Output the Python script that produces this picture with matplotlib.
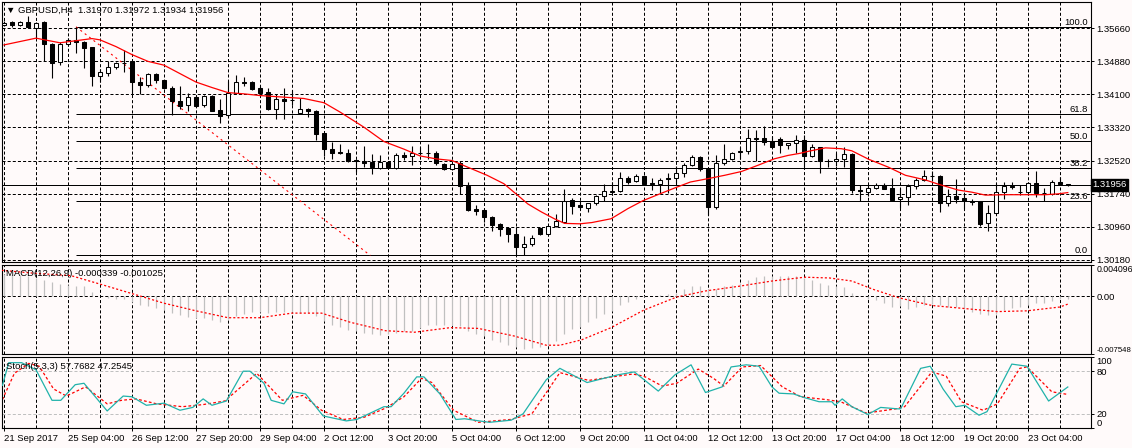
import matplotlib
matplotlib.use('Agg')
import matplotlib.pyplot as plt
from matplotlib.transforms import blended_transform_factory

plt.rcParams['font.family'] = ['Liberation Sans', 'DejaVu Sans']
plt.rcParams['font.size'] = 6.8
plt.rcParams['lines.scale_dashes'] = False

# GBPUSD H4 candles, one value per bar (bar 0 = 21 Sep 2017)
opens = [1.3575, 1.3581, 1.3574, 1.3581, 1.3567, 1.3581, 1.3529, 1.3487, 1.3528, 1.3539,
         1.3535, 1.3521, 1.3453, 1.3461, 1.3474, 1.3485, 1.3488, 1.3439, 1.3433, 1.3458,
         1.3443, 1.3426, 1.3395, 1.3384, 1.3403, 1.3384, 1.3406, 1.3372, 1.3360, 1.3412,
         1.3438, 1.3438, 1.3424, 1.3415, 1.3374, 1.3398, 1.3397, 1.3366, 1.3375, 1.3370,
         1.3318, 1.3280, 1.3273, 1.3271, 1.3254, 1.3253, 1.3250, 1.3235, 1.3250, 1.3236,
         1.3265, 1.3263, 1.3272, 1.3271, 1.3272, 1.3244, 1.3232, 1.3246, 1.3193, 1.3137,
         1.3136, 1.3118, 1.3103, 1.3092, 1.3079, 1.3049, 1.3054, 1.3092, 1.3080, 1.3098,
         1.3107, 1.3159, 1.3147, 1.3141, 1.3153, 1.3168, 1.3179, 1.3180, 1.3212, 1.3204,
         1.3216, 1.3199, 1.3197, 1.3212, 1.3212, 1.3223, 1.3242, 1.3261, 1.3232, 1.3144,
         1.3246, 1.3257, 1.3274, 1.3275, 1.3305, 1.3306, 1.3300, 1.3303, 1.3289, 1.3294,
         1.3302, 1.3264, 1.3284, 1.3253, 1.3251, 1.3256, 1.3269, 1.3182, 1.3178, 1.3189,
         1.3196, 1.3187, 1.3161, 1.3166, 1.3193, 1.3206, 1.3217, 1.3216, 1.3152, 1.3169,
         1.3164, 1.3156, 1.3156, 1.3104, 1.3129, 1.3178, 1.3193, 1.3178, 1.3178, 1.3199,
         1.3177, 1.3174, 1.3201, 1.31970]
highs = [1.3583, 1.3584, 1.3584, 1.3596, 1.3581, 1.3583, 1.3532, 1.3535, 1.3543, 1.3570,
         1.3537, 1.3523, 1.3469, 1.3488, 1.3487, 1.3515, 1.3490, 1.3450, 1.3461, 1.3461,
         1.3445, 1.3430, 1.3430, 1.3412, 1.3408, 1.3409, 1.3409, 1.3398, 1.3441, 1.3456,
         1.3450, 1.3442, 1.3430, 1.3426, 1.3411, 1.3425, 1.3420, 1.3401, 1.3378, 1.3373,
         1.3319, 1.3297, 1.3291, 1.3281, 1.3257, 1.3287, 1.3268, 1.3265, 1.3253, 1.3270,
         1.3273, 1.3287, 1.3286, 1.3292, 1.3275, 1.3246, 1.3246, 1.3253, 1.3202, 1.3148,
         1.3137, 1.3122, 1.3106, 1.3093, 1.3096, 1.3074, 1.3077, 1.3095, 1.3099, 1.3126,
         1.3185, 1.3164, 1.3156, 1.3153, 1.3172, 1.3198, 1.3202, 1.3226, 1.3216, 1.3220,
         1.3218, 1.3212, 1.3212, 1.3224, 1.3240, 1.3248, 1.3265, 1.3264, 1.3234, 1.3267,
         1.3291, 1.3273, 1.3286, 1.3327, 1.3325, 1.3336, 1.3310, 1.3308, 1.3295, 1.3313,
         1.3313, 1.3291, 1.3286, 1.3257, 1.3272, 1.3284, 1.3270, 1.3194, 1.3194, 1.3199,
         1.3199, 1.3212, 1.3189, 1.3197, 1.3212, 1.3231, 1.3227, 1.3218, 1.3185, 1.3210,
         1.3174, 1.3161, 1.3158, 1.3147, 1.3199, 1.3202, 1.3201, 1.3196, 1.3201, 1.3227,
         1.3188, 1.3208, 1.3215, 1.31972]
lows = [1.3572, 1.3569, 1.3572, 1.3566, 1.3543, 1.3488, 1.3449, 1.3480, 1.3524, 1.3509,
        1.3472, 1.3430, 1.3438, 1.3454, 1.3471, 1.3463, 1.3411, 1.3411, 1.3428, 1.3436,
        1.3423, 1.3362, 1.3376, 1.3371, 1.3381, 1.3379, 1.3370, 1.3343, 1.3359, 1.3411,
        1.3430, 1.3420, 1.3408, 1.3373, 1.3352, 1.3351, 1.3385, 1.3365, 1.3357, 1.3302,
        1.3264, 1.3256, 1.3268, 1.3250, 1.3226, 1.3237, 1.3221, 1.3234, 1.3235, 1.3234,
        1.3254, 1.3243, 1.3265, 1.3257, 1.3243, 1.3231, 1.3231, 1.3174, 1.3134, 1.3123,
        1.3107, 1.3087, 1.3073, 1.3060, 1.3030, 1.3028, 1.3050, 1.3076, 1.3079, 1.3095,
        1.3106, 1.3126, 1.3137, 1.3131, 1.3148, 1.3156, 1.3172, 1.3178, 1.3197, 1.3201,
        1.3196, 1.3182, 1.3175, 1.3175, 1.3197, 1.3215, 1.3240, 1.3229, 1.3125, 1.3139,
        1.3242, 1.3254, 1.3257, 1.3268, 1.3251, 1.3289, 1.3284, 1.3272, 1.3280, 1.3270,
        1.3237, 1.3261, 1.3224, 1.3237, 1.3240, 1.3237, 1.3175, 1.3158, 1.3169, 1.3186,
        1.3185, 1.3158, 1.3140, 1.3148, 1.3185, 1.3204, 1.3205, 1.3131, 1.3145, 1.3153,
        1.3139, 1.3147, 1.3099, 1.3087, 1.3126, 1.3161, 1.3186, 1.3172, 1.3172, 1.3166,
        1.3158, 1.3172, 1.3196, 1.31934]
closes = [1.3580, 1.3574, 1.3581, 1.3569, 1.3578, 1.3528, 1.3483, 1.3529, 1.3539, 1.3535,
          1.3520, 1.3453, 1.3462, 1.3474, 1.3483, 1.3483, 1.3438, 1.3431, 1.3458, 1.3445,
          1.3426, 1.3393, 1.3382, 1.3403, 1.3383, 1.3406, 1.3371, 1.3359, 1.3412, 1.3439,
          1.3437, 1.3423, 1.3413, 1.3374, 1.3398, 1.3395, 1.3396, 1.3374, 1.3370, 1.3317,
          1.3281, 1.3272, 1.3270, 1.3251, 1.3253, 1.3248, 1.3237, 1.3250, 1.3237, 1.3265,
          1.3262, 1.3270, 1.3271, 1.3272, 1.3246, 1.3232, 1.3244, 1.3192, 1.3136, 1.3134,
          1.3118, 1.3101, 1.3090, 1.3078, 1.3048, 1.3054, 1.3069, 1.3079, 1.3098, 1.3110,
          1.3158, 1.3145, 1.3142, 1.3152, 1.3169, 1.3180, 1.3180, 1.3211, 1.3202, 1.3216,
          1.3197, 1.3198, 1.3208, 1.3210, 1.3223, 1.3242, 1.3261, 1.3232, 1.3144, 1.3246,
          1.3257, 1.3272, 1.3275, 1.3306, 1.3306, 1.3298, 1.3286, 1.3289, 1.3294, 1.3302,
          1.3264, 1.3286, 1.3251, 1.3252, 1.3256, 1.3269, 1.3182, 1.3180, 1.3189, 1.3196,
          1.3186, 1.3160, 1.3167, 1.3193, 1.3206, 1.3216, 1.3216, 1.3152, 1.3169, 1.3161,
          1.3158, 1.3155, 1.3103, 1.3129, 1.3178, 1.3193, 1.3191, 1.3179, 1.3199, 1.3175,
          1.3176, 1.3201, 1.3197, 1.31956]

# moving average (red line), read at points along the curve
ma_x = [0, 4, 7, 9, 11, 12, 14, 16, 18, 20, 22, 24, 26, 28, 30, 32, 37.5, 40, 42, 45,
        47.5, 50, 52, 54, 56, 58, 60.4, 62.5, 64.2, 65.5, 67.2, 68.8, 70.1, 72, 73.5,
        75.9, 78, 79.9, 82, 84, 85.8, 88, 90.1, 92.2, 94.3, 96.3, 98, 99.5, 100.6, 102.7,
        104.7, 106, 108.1, 110.6, 112.7, 115.2, 116.8, 119.3, 121, 122.7, 125.2, 127.7,
        130.2, 131.8, 133]
ma_v = [1.3527, 1.3543, 1.3532, 1.3537, 1.3542, 1.3539, 1.3523, 1.3504, 1.3488, 1.3479,
        1.3459, 1.3439, 1.3426, 1.3414, 1.3411, 1.3407, 1.3400, 1.3390, 1.3368, 1.3332,
        1.3298, 1.3280, 1.3264, 1.3257, 1.3253, 1.3237, 1.3218, 1.3198, 1.3171, 1.3150,
        1.3131, 1.3115, 1.3104, 1.3103, 1.3106, 1.3115, 1.3139, 1.3158, 1.3174, 1.3189,
        1.3202, 1.3210, 1.3218, 1.3227, 1.3242, 1.3257, 1.3265, 1.3270, 1.3275, 1.3283,
        1.3281, 1.3276, 1.3256, 1.3237, 1.3218, 1.3207, 1.3197, 1.3183, 1.3178, 1.3171,
        1.3172, 1.3172, 1.3172, 1.3174, 1.3177]

# MACD(12,26,9) histogram per bar and signal line
macd_main = [0.0029, 0.0029, 0.0028, 0.0027, 0.0024, 0.0021, 0.0019, 0.0016, 0.0015, 0.0014,
             0.0013, 0.0005, 0.0000, -0.00026, -0.0003, -0.0004, -0.0007, -0.0012, -0.0013, -0.0015,
             -0.0018, -0.0022, -0.0025, -0.0027, -0.0028, -0.0029, -0.0031, -0.0033, -0.0030, -0.0026,
             -0.0023, -0.0021, -0.0021, -0.0022, -0.0021, -0.0021, -0.0020, -0.0022, -0.0022, -0.0026,
             -0.0032, -0.0037, -0.0040, -0.0044, -0.0046, -0.0048, -0.0049, -0.0051, -0.0049, -0.0048,
             -0.0046, -0.0045, -0.0041, -0.0038, -0.0038, -0.0038, -0.0037, -0.0039, -0.0046, -0.0049,
             -0.0052, -0.0057, -0.0060, -0.0064, -0.0066, -0.0069, -0.0068, -0.0066, -0.0064, -0.0058,
             -0.0049, -0.0043, -0.0040, -0.0034, -0.0029, -0.0023, -0.0019, -0.0012, -0.0008, -0.0004,
             -0.0001, 0.0000, 0.0002, 0.0003, 0.0004, 0.0009, 0.0013, 0.0013, 0.0009, 0.0010,
             0.0013, 0.0015, 0.0017, 0.0021, 0.0025, 0.0027, 0.0027, 0.0027, 0.0027, 0.0026,
             0.0024, 0.0021, 0.0018, 0.0015, 0.0014, 0.0012, 0.0004, 0.0000, -0.0004, -0.0005,
             -0.0009, -0.0014, -0.0013, -0.0016, -0.0014, -0.0011, -0.0010, -0.0012, -0.0014, -0.0014,
             -0.0017, -0.0021, -0.0023, -0.0025, -0.0023, -0.0018, -0.0015, -0.0014, -0.0012, -0.0009,
             -0.0009, -0.0006, -0.0004, -0.000339]
sig_x = [-0.3, 4, 8.4, 12, 16.5, 20, 24, 28, 32, 36, 39.7, 43.3, 47.7, 51.3, 55.8, 59.3, 63.8,
         67.8, 69.5, 72.2, 75.9, 80, 84.1, 87.7, 91.8, 96, 100.1, 103.2, 106, 108.7, 111.9,
         116, 120.1, 124.2, 127.9, 132, 133]
sig_v = [0.0034, 0.0030, 0.0027, 0.0016, 0.0002, -0.0009, -0.0019, -0.0028, -0.0028, -0.0022,
         -0.0022, -0.0034, -0.0045, -0.0047, -0.0041, -0.0042, -0.0052, -0.0064, -0.0064, -0.0057,
         -0.0041, -0.0018, -0.0001, 0.0007, 0.0013, 0.0020, 0.0025, 0.0024, 0.0020, 0.0009,
         -0.0002, -0.0012, -0.0016, -0.0020, -0.0019, -0.0014, -0.001025]

# Stochastic(5,3,3) main and signal
st_x = [-0.2, 0.6, 2.2, 4, 6, 7.1, 8.9, 10, 12.9, 14.9, 16, 17.8, 20, 22, 23.6, 24.9, 26, 27.8,
        29.9, 30.75, 32.5, 33.4, 35, 36.1, 37.7, 39.9, 42.8, 44.1, 47.5, 48.4, 50, 51.6, 52.5,
        54.5, 56.5, 57.6, 59.4, 60.7, 63.4, 64.9, 67.8, 69.5, 72.9, 75, 76.8, 78.8, 81.8, 83.9,
        85.9, 87.7, 89.8, 90.9, 92.8, 94.4, 96, 96.9, 98.7, 100, 101.9, 103.5, 103.9, 104.8, 106,
        108, 109.6, 111.7, 112.1, 114.6, 115.8, 117.4, 119, 120.1, 121.9, 122.9, 126, 127.9,
        130.6, 133]
st_v = [60, 92, 92, 82, 39, 39, 61, 63, 24, 45, 44, 32, 35, 25, 29, 41, 32, 38,
        80, 80, 63, 39, 34, 51, 48, 17, 10, 12, 30, 30, 49, 72, 72,
        48, 12, 13, 10, 8, 11, 20, 68, 84, 64, 70, 75, 79, 52, 75,
        89, 50, 58, 86, 89, 87, 58, 49, 48, 43, 37, 37, 32, 41, 30,
        19, 29, 27, 27, 84, 87, 55, 30, 32, 18, 23, 90, 87,
        38, 57.7682]
ss_x = [-0.2, 1.3, 3.1, 4.4, 6.2, 7.8, 10.2, 12.9, 14.7, 16.5, 19.1, 22.3, 24.9, 27.6, 31.6,
        34.8, 37.4, 39.7, 42.4, 45, 47.7, 50, 52.2, 53.5, 56.2, 59.3, 63.3, 66, 69.5, 73.1,
        75.4, 78.6, 80, 82.3, 84.1, 86.8, 88.7, 90, 92.3, 94.6, 97.3, 99.6, 102.8, 104.6, 107.8,
        111.5, 112.6, 116, 117.8, 119.7, 122.4, 124.2, 127, 127.9, 131, 133]
ss_v = [40, 77, 91, 87, 55, 45, 58, 34, 39, 41, 34, 30, 33, 38, 77,
        39, 46, 25, 12, 15, 28, 44, 70, 64, 25, 8, 12, 20, 78, 67,
        71, 76, 73, 59, 63, 83, 70, 59, 86, 88, 58, 44, 40, 37, 21,
        27, 30, 79, 73, 37, 25, 34, 84, 86, 51, 47.2545]

price_ticks = [1.30180, 1.30960, 1.31740, 1.32520, 1.33320, 1.34100, 1.34880, 1.35660]
fib_high, fib_low = 1.3570, 1.3028
fib_start, fib_end = 9, 45.8
fib_levels = [0.0, 23.6, 38.2, 50.0, 61.8, 100.0]
date_labels = ['21 Sep 2017', '25 Sep 04:00', '26 Sep 12:00', '27 Sep 20:00', '29 Sep 04:00',
               '2 Oct 12:00', '3 Oct 20:00', '5 Oct 04:00', '6 Oct 12:00', '9 Oct 20:00',
               '11 Oct 04:00', '12 Oct 12:00', '13 Oct 20:00', '17 Oct 04:00', '18 Oct 12:00',
               '19 Oct 20:00', '23 Oct 04:00']
last_price = 1.31956

bg = '#fffafa'
dash = (0, (2.2, 1.5))
W, H = 1132, 448
fig = plt.figure(figsize=(W / 100, H / 100), dpi=100, facecolor=bg)


def box(top, bottom):
    return [2 / W, 1 - bottom / H, (1091 - 2) / W, (bottom - top) / H]


ax = fig.add_axes(box(2, 262))
ax_m = fig.add_axes(box(265, 354), sharex=ax)
ax_s = fig.add_axes(box(357, 428), sharex=ax)

n = len(closes)
xs = list(range(n))
x_lo, x_hi = -0.25, 135.9

for a in (ax, ax_m, ax_s):
    a.set_facecolor(bg)
    for s in a.spines.values():
        s.set_linewidth(0.8)
    for gx in range(0, n, 4):
        a.axvline(gx, color='black', lw=0.72, linestyle=dash, zorder=0)
    a.yaxis.tick_right()
    a.tick_params(axis='y', direction='out', length=2.5, width=0.7, pad=1.5, labelsize=6.8)
    a.tick_params(axis='x', bottom=False, labelbottom=False)

# main price panel
for p in price_ticks:
    ax.axhline(p, color='black', lw=0.72, linestyle=dash, zorder=0)
ax.axhline(last_price, color='black', lw=0.72, zorder=1)

lv_prices = [fib_low + (fib_high - fib_low) * lv / 100 for lv in fib_levels]
ax.hlines(lv_prices, fib_start, x_hi, color='black', lw=0.72, zorder=1)
tr = blended_transform_factory(ax.transAxes, ax.transData)
for lv, p in zip(fib_levels, lv_prices):
    ax.text(0.997, p, '%.1f' % lv, transform=tr, ha='right', va='bottom', fontsize=6.8)
ax.plot([fib_start, fib_end], [fib_high, fib_low], color='red', lw=0.8,
        linestyle=(0, (1.5, 2.5)), zorder=2)

ax.vlines(xs, lows, highs, color='black', lw=0.8, zorder=3)
bottoms = [min(o, c) for o, c in zip(opens, closes)]
heights = [abs(c - o) for o, c in zip(opens, closes)]
colors = ['white' if c >= o else 'black' for o, c in zip(opens, closes)]
ax.bar(xs, heights, bottom=bottoms, width=0.5, color=colors, edgecolor='black',
       linewidth=0.75, zorder=4)
ax.plot(ma_x, ma_v, color='red', lw=0.9, zorder=5)

ax.set_ylim(1.30125, 1.36287)
ax.set_yticks(price_ticks)
ax.set_yticklabels(['%.5f' % p for p in price_ticks])
ax.text(1.0015, last_price, '%.5f' % last_price, transform=tr, ha='left', va='center',
        color='white', fontsize=6.8,
        bbox=dict(boxstyle='square,pad=0.15', fc='black', ec='black'), zorder=10,
        clip_on=False)
ax.text(0.004, 0.985, '\u25bc GBPUSD,H4  1.31970 1.31972 1.31934 1.31956',
        transform=ax.transAxes, ha='left', va='top', fontsize=6.8)

# MACD panel
ax_m.axhline(0, color='black', lw=0.72, linestyle=dash, zorder=0)
ax_m.vlines(xs, 0, macd_main, color='#c0c0c0', lw=0.9, zorder=2)
ax_m.plot(sig_x, sig_v, color='red', lw=0.9, linestyle=(0, (1.5, 1.5)), zorder=3)
ax_m.set_ylim(-0.007548, 0.004096)
ax_m.set_yticks([0.004096, 0.0, -0.007548])
ax_m.set_yticklabels(['0.004096', '0.00', '-0.007548'])
ylabs = ax_m.get_yticklabels()
ylabs[0].set_va('top')
ylabs[0].set_fontsize(6.3)
ylabs[2].set_va('bottom')
ylabs[2].set_fontsize(5.6)
ax_m.text(0.004, 0.96, 'MACD(12,26,9) -0.000339 -0.001025', transform=ax_m.transAxes,
          ha='left', va='top', fontsize=6.8, zorder=6)

# Stochastic panel
for lv in (20, 80):
    ax_s.axhline(lv, color='#c0c0c0', lw=0.72, linestyle=dash, zorder=0)
ax_s.plot(st_x, st_v, color='#20b2aa', lw=0.9, zorder=3)
ax_s.plot(ss_x, ss_v, color='red', lw=0.9, linestyle=(0, (2, 1.6)), zorder=2)
ax_s.set_ylim(0, 100)
ax_s.set_yticks([100, 80, 20, 0])
ax_s.set_yticklabels(['100', '80', '20', '0'])
sl = ax_s.get_yticklabels()
sl[0].set_va('top')
sl[3].set_va('bottom')
ax_s.text(0.004, 0.93, 'Stoch(5,3,3) 57.7682 47.2545', transform=ax_s.transAxes,
          ha='left', va='top', fontsize=6.8, zorder=6)

ax_s.set_xticks(list(range(0, 8 * len(date_labels), 8)))
ax_s.set_xticklabels(date_labels, ha='left')
ax_s.tick_params(axis='x', bottom=True, labelbottom=True, direction='out', length=2.5,
                 width=0.7, pad=1.5, labelsize=6.8)
ax.set_xlim(x_lo, x_hi)

fig.savefig('out.png', dpi=100, facecolor=bg)
